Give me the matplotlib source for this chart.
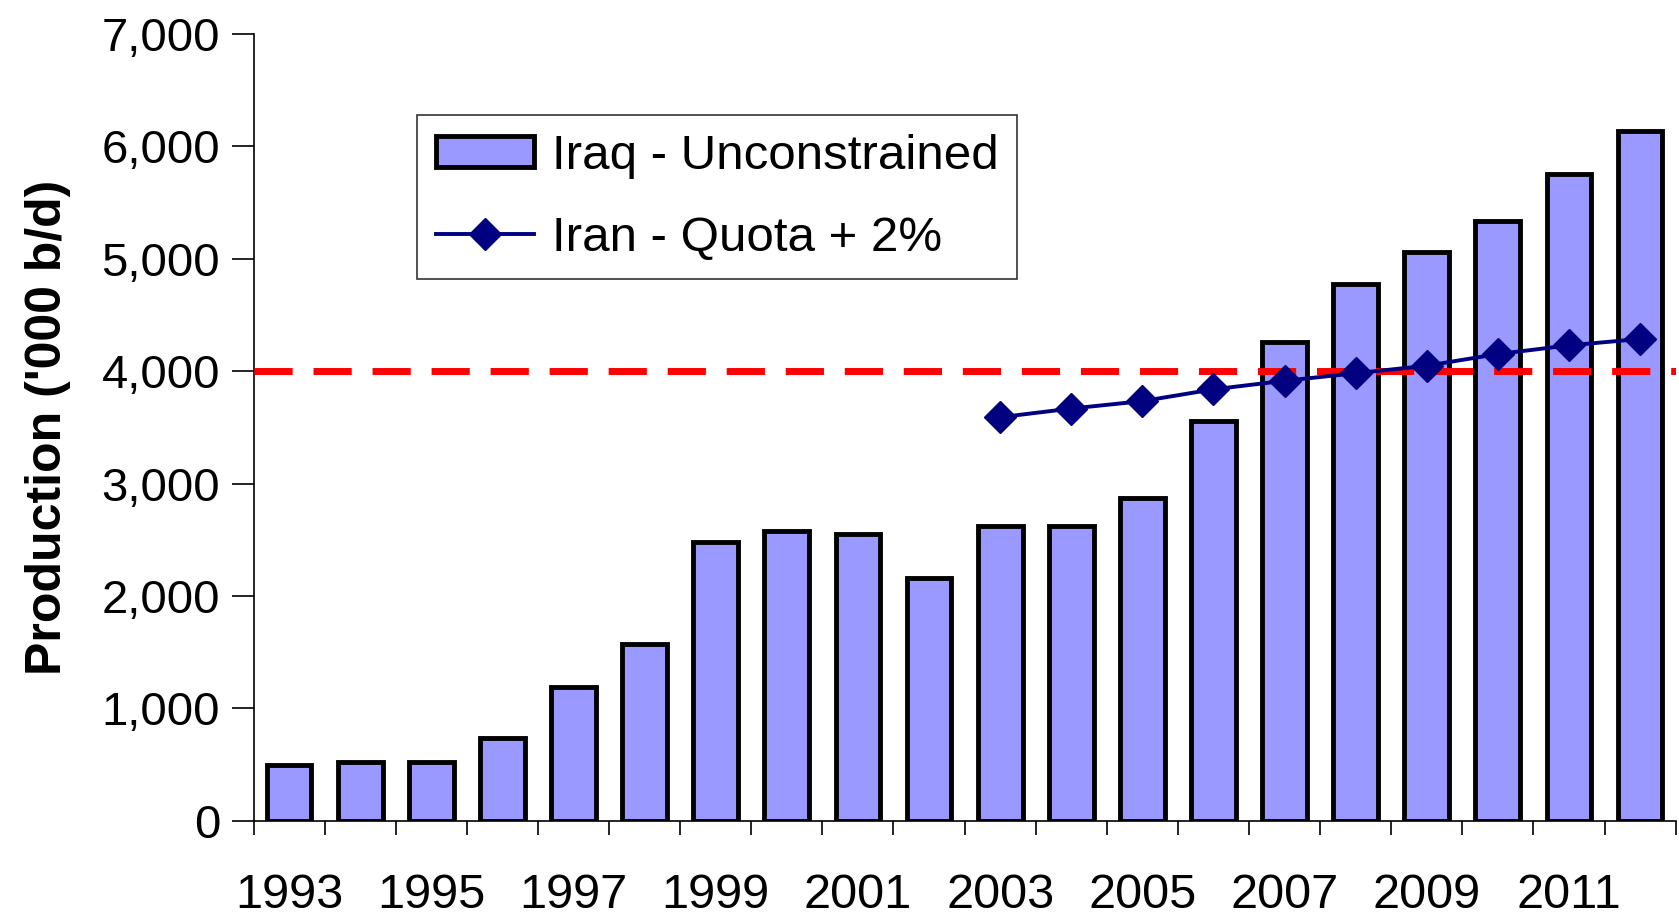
import matplotlib
matplotlib.use("Agg")
import matplotlib.pyplot as plt
import numpy as np

years = list(range(1993, 2013))
iraq = [495, 524, 524, 733, 1190, 1571, 2476, 2581, 2552, 2162,
        2619, 2619, 2867, 3552, 4257, 4771, 5057, 5333, 5752, 6133]
iran_years = list(range(2003, 2013))
iran = [3590, 3667, 3733, 3838, 3914, 3981, 4048, 4152, 4229, 4286]
threshold = 4000
xtick_labels = [str(y) for y in range(1993, 2012, 2)]
yticks = list(range(0, 7001, 1000))

plt.rcParams['font.family'] = ['Liberation Sans', 'DejaVu Sans']

fig = plt.figure(figsize=(16.79, 9.17), dpi=100)
ax = fig.add_axes([0.151, 0.105, 0.847, 0.858])

x = np.arange(len(years))
bars = ax.bar(x, iraq, width=0.63, color='#9999FF', edgecolor='black', linewidth=3.5,
              label='Iraq - Unconstrained', zorder=2)
ix = np.array([years.index(y) for y in iran_years])
line, = ax.plot(ix, iran, color='#000080', marker='D', markersize=16, linewidth=2.8,
                label='Iran - Quota + 2%', zorder=4)
ax.axhline(threshold, color='#FF0000', linewidth=5, dashes=(5.5, 3), zorder=3)

ax.set_xlim(-0.5, len(years) - 0.5)
ax.set_ylim(0, 7000)
ax.set_yticks(yticks)
ax.set_yticklabels([f"{v:,}" for v in yticks], fontsize=34)
ax.set_xticks(np.arange(len(years) + 1) - 0.5, minor=False)
ax.set_xticklabels([])
ax.set_xticks(np.arange(0, len(years), 2), minor=True)
ax.set_xticklabels(xtick_labels, minor=True, fontsize=35)
ax.tick_params(axis='x', which='minor', length=0, pad=38)
ax.tick_params(axis='x', which='major', length=10, width=1.2, direction='out')
ax.tick_params(axis='y', length=16, width=1.2, direction='out', pad=8)

ax.set_ylabel("Production ('000 b/d)", fontsize=36, fontweight='bold', labelpad=22)

for s in ['top', 'right']:
    ax.spines[s].set_visible(False)
for s in ['left', 'bottom']:
    ax.spines[s].set_linewidth(1.2)

leg = ax.legend([bars, line], ['Iraq - Unconstrained', 'Iran - Quota + 2%'],
                loc='upper left', bbox_to_anchor=(0.115, 0.897), fontsize=35.5,
                frameon=True, fancybox=False, edgecolor='black', borderpad=0.38,
                handlelength=2.0, handleheight=0.6, handletextpad=0.35, labelspacing=0.75,
                borderaxespad=0)
leg.get_frame().set_linewidth(1.2)

fig.savefig('out.png', dpi=100)
